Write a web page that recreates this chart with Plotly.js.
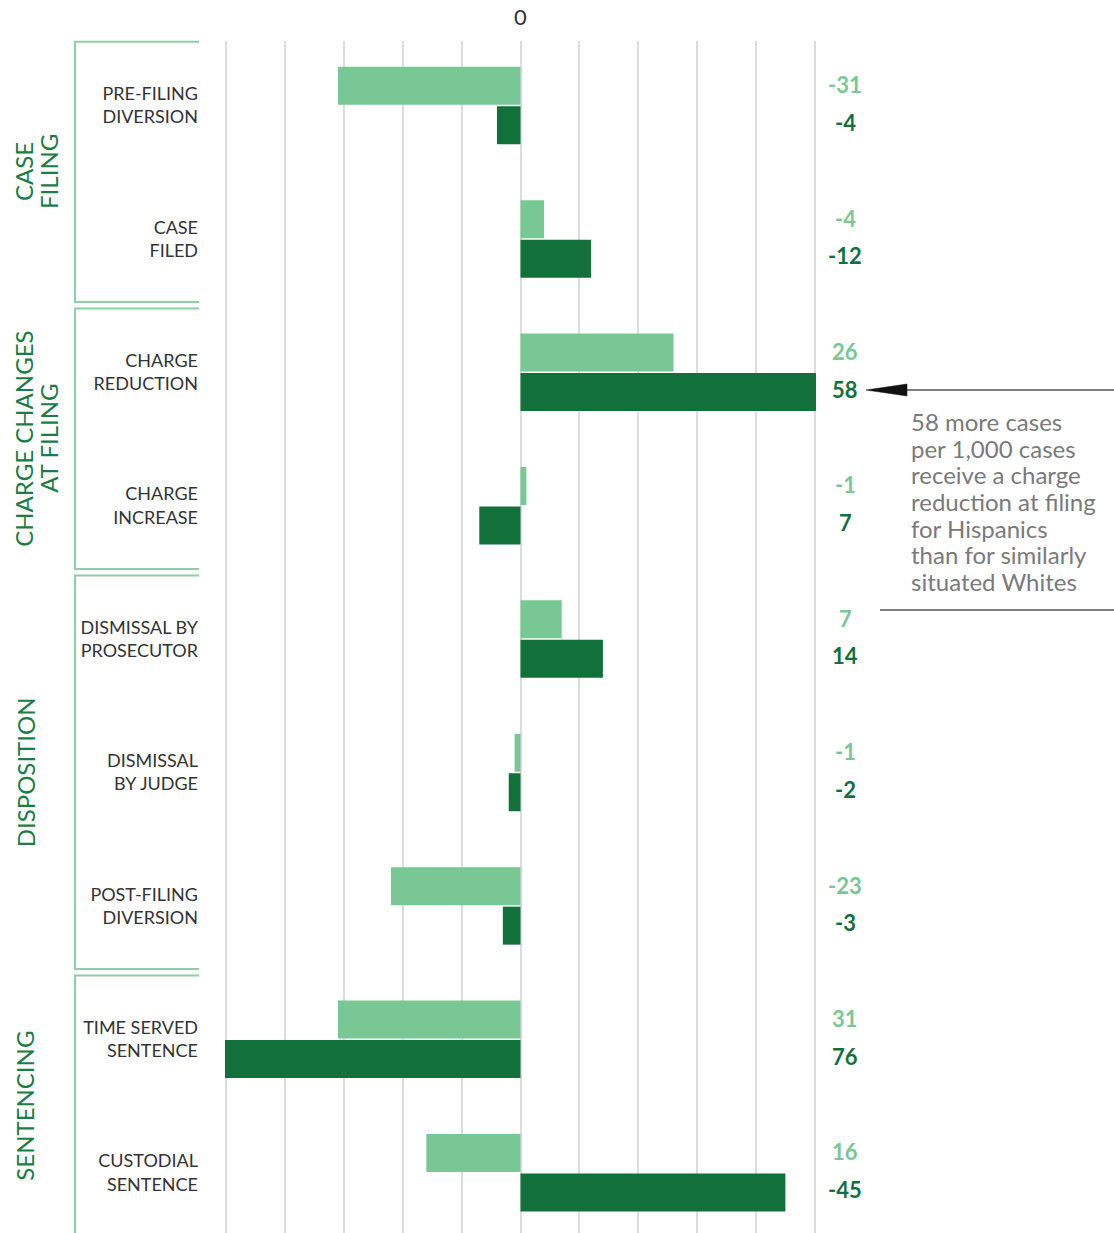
<!DOCTYPE html>
<html><head><meta charset="utf-8">
<script src="https://cdn.plot.ly/plotly-3.0.1.min.js"></script>
<style>html,body{margin:0;padding:0;background:#fff;overflow:hidden}</style>
</head><body><div id="chart" style="width:1114px;height:1233px"></div>
<script>
const categories = ["PRE-FILING<br>DIVERSION","CASE<br>FILED","CHARGE<br>REDUCTION","CHARGE<br>INCREASE","DISMISSAL BY<br>PROSECUTOR","DISMISSAL<br>BY JUDGE","POST-FILING<br>DIVERSION","TIME SERVED<br>SENTENCE","CUSTODIAL<br>SENTENCE"];
const lightValues = [-31, 4, 26, 1, 7, -1, -22, -31, -16];
const darkValues = [-4, 12, 58, -7, 14, -2, -3, -76, 45];
const lightLabels = ["-31","-4","26","-1","7","-1","-23","31","16"];
const darkLabels = ["-4","-12","58","7","14","-2","-3","76","-45"];
const groupNames = [["CASE","FILING"],["CHARGE CHANGES","AT FILING"],["DISPOSITION"],["SENTENCING"]];
const groupSizes = [2,2,3,2];
const noteLines = ["58 more cases","per 1,000 cases","receive a charge","reduction at filing","for Hispanics","than for similarly","situated Whites"];

const LIGHT = '#78c795', DARK = '#12703b', GROUPC = '#1a7d43', BRACKET = '#8ccfa4';
const FONT = 'Lato, "Open Sans", sans-serif';
const L = 225, R = 816, T = 41, B = 1233;
const px = x => (x - L) / (R - L);
const py = y => (B - y) / (B - T);
const BAND = 133.4, C0 = 105.5;
const catPx = i => C0 + i * BAND;

const traces = [
  {type:'bar', orientation:'h', y:categories, x:lightValues, marker:{color:LIGHT, line:{width:0}}, hoverinfo:'skip', name:'light'},
  {type:'bar', orientation:'h', y:categories, x:darkValues, marker:{color:DARK, line:{width:0}}, hoverinfo:'skip', name:'dark'}
];

const annotations = [];
const shapes = [];
const off = 0.148;
categories.forEach((c, i) => {
  annotations.push({xref:'paper', yref:'y', x:px(845), y:i - off, yshift:1, text:lightLabels[i], showarrow:false, xanchor:'center', yanchor:'middle', font:{family:FONT, size:22, color:LIGHT, weight:700}});
  annotations.push({xref:'paper', yref:'y', x:px(845), y:i + off, yshift:3, text:darkLabels[i], showarrow:false, xanchor:'center', yanchor:'middle', font:{family:FONT, size:22, color:DARK, weight:700}});
});

let start = 0;
groupSizes.forEach((n, g) => {
  const end = start + n - 1;
  const top = catPx(start - 0.5) + 3;
  const bot = catPx(end + 0.5) - 3.5;
  shapes.push({type:'path', xref:'paper', yref:'paper',
    path:`M${px(199)},${py(top)} L${px(75)},${py(top)} L${px(75)},${py(bot)} L${px(199)},${py(bot)}`,
    line:{color:BRACKET, width:2}});
  const mid = (top + bot) / 2;
  const lines = groupNames[g];
  const xs = lines.length === 2 ? [24, 49] : [25];
  lines.forEach((t, k) => {
    annotations.push({xref:'paper', yref:'paper', x:px(xs[k]), y:py(mid), text:t, textangle:-90, showarrow:false, xanchor:'center', yanchor:'middle', font:{family:FONT, size:24, color:GROUPC}});
  });
  start = end + 1;
});

// zero label on top
annotations.push({xref:'x', yref:'paper', x:0, y:py(17), text:'0', showarrow:false, xanchor:'center', yanchor:'middle', font:{family:FONT, size:22, color:'#333'}});

// note text
noteLines.forEach((t, k) => {
  annotations.push({xref:'paper', yref:'paper', x:px(909), y:py(421.5 + k * 26.67), text:t, showarrow:false, xanchor:'left', yanchor:'middle', font:{family:FONT, size:24, color:'#7a7a7a'}});
});

// arrow
shapes.push({type:'line', xref:'paper', yref:'paper', x0:px(905), x1:px(1114), y0:py(390), y1:py(390), line:{color:'#555', width:1.5}});
shapes.push({type:'path', xref:'paper', yref:'paper', path:`M${px(866)},${py(390)} L${px(907)},${py(384)} L${px(907)},${py(396)} Z`, fillcolor:'#111', line:{color:'#111', width:0.5}});
shapes.push({type:'line', xref:'paper', yref:'paper', x0:px(880), x1:px(1114), y0:py(610), y1:py(610), line:{color:'#555', width:1.5}});

const layout = {
  width:1114, height:1233,
  margin:{l:L, r:1114 - R, t:T, b:1233 - B, pad:0},
  paper_bgcolor:'#fff', plot_bgcolor:'#fff',
  barmode:'group', bargap:0.408, bargroupgap:0.038,
  showlegend:false, hovermode:false,
  font:{family:FONT, color:'#333'},
  xaxis:{range:[-50.2, 50.2], dtick:10, tick0:0, showgrid:true, gridcolor:'#dcdcdc', gridwidth:2,
         zeroline:true, zerolinecolor:'#dcdcdc', zerolinewidth:2, showticklabels:false, ticks:'', showline:false, fixedrange:true},
  yaxis:{type:'category', range:[(B - C0) / BAND, (T - C0) / BAND], showgrid:false, zeroline:false, showline:false, ticks:'',
         ticklabelstandoff:26, tickfont:{family:FONT, size:18, color:'#333'}, fixedrange:true},
  annotations, shapes
};

Plotly.newPlot('chart', traces, layout, {displayModeBar:false, staticPlot:true});
</script></body></html>
